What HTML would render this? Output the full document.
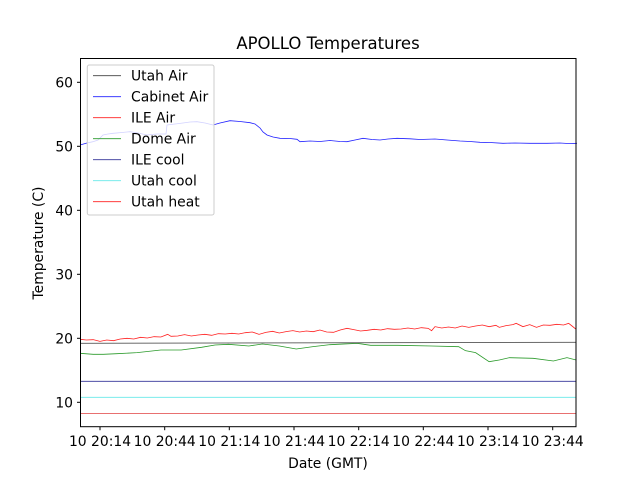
<!DOCTYPE html>
<html><head><meta charset="utf-8"><style>
body{margin:0;background:#fff;}
svg{display:block;font-family:"DejaVu Sans","Liberation Sans",sans-serif;}
</style></head><body>
<svg width="640" height="480" viewBox="0 0 640 480" xmlns="http://www.w3.org/2000/svg">
<rect width="640" height="480" fill="#fff"/>
<text x="328" y="49" font-size="16.5" text-anchor="middle">APOLLO Temperatures</text>
<line x1="80.5" y1="381.3" x2="576" y2="381.3" stroke="#333399" stroke-width="0.8"/>
<line x1="80.5" y1="397.3" x2="576" y2="397.3" stroke="#66e8e8" stroke-width="0.8"/>
<line x1="80.5" y1="413.5" x2="576" y2="413.5" stroke="#e04040" stroke-width="0.8"/>
<g transform="translate(59.36,320) scale(0.3384,0.3333)">
<polyline vector-effect="non-scaling-stroke" fill="none" stroke="#2a9a2a" stroke-width="0.8" points="61,100 100,103 130,103 170,101 230,98 300,90 360,90 420,82 460,75 500,73 560,78 600,72 650,78 700,87 750,80 800,74 880,70 920,76 1000,76 1100,78 1180,80 1200,92 1230,98 1270,125 1300,120 1330,113 1400,115 1460,123 1500,113 1527,120"/>
</g>
<line x1="80.5" y1="343.3" x2="576" y2="342.3" stroke="#555" stroke-width="0.8"/>
<g transform="translate(59.36,320) scale(0.3384,0.3333)">
<polyline vector-effect="non-scaling-stroke" fill="none" stroke="#ff2020" stroke-width="0.8" points="61,58 80,60 100,59 120,64 140,60 160,62 180,57 200,55 220,57 240,52 260,54 280,50 300,51 320,43 330,49 350,48 370,44 390,48 410,45 430,43 450,46 470,41 490,42 510,40 530,42 550,38 570,36 590,43 610,37 630,34 650,39 670,35 690,32 710,36 730,33 750,35 770,30 790,36 810,37 830,30 850,25 870,29 890,33 910,31 930,28 950,30 970,26 990,28 1010,27 1030,24 1050,27 1070,23 1090,25 1100,32 1110,20 1130,24 1150,21 1170,24 1190,18 1210,22 1230,18 1250,15 1270,20 1290,16 1300,22 1320,17 1340,14 1350,10 1370,20 1390,14 1410,22 1430,15 1450,16 1470,13 1490,15 1505,10 1515,18 1527,28"/>
</g>
<polyline fill="none" stroke="#2020ff" stroke-width="0.8" points="80,145 87,143 93,141.7 98,140 103,135 108,134 113,133.3 122,132.5 130,131.7 138,133 147,135 157,134 166,134 167,125 175,124 183,123 190,122 197,121.7 205,123 213,125 220,123 230,120.7 240,121.5 250,122.7 255,124 260,128 263,132 267,135 273,137 280,138.3 290,138.5 297,139.3 300,141.7 310,141 320,141.5 330,140.5 340,141.5 347,141.7 355,140 363,138.3 372,139.5 380,140 388,139 397,138.3 410,138.8 420,139.5 435,139 447,140 460,141 470,141.5 480,142.3 490,142.5 503,143.3 515,143 530,143.3 547,143.3 560,143 570,143.6 577,143.3"/>
<rect x="87.3" y="65" width="126.7" height="150" rx="2" fill="#fff" fill-opacity="0.8" stroke="#ccc" stroke-width="1"/>
<g font-size="13.9" stroke-width="0.8">
<line x1="93" y1="75.7" x2="121" y2="75.7" stroke="#404040"/><text x="131" y="80.5">Utah Air</text>
<line x1="93" y1="96.7" x2="121" y2="96.7" stroke="#2020ff"/><text x="131" y="101.5">Cabinet Air</text>
<line x1="93" y1="117.7" x2="121" y2="117.7" stroke="#ff2020"/><text x="131" y="122.5">ILE Air</text>
<line x1="93" y1="138.7" x2="121" y2="138.7" stroke="#2a9a2a"/><text x="131" y="143.5">Dome Air</text>
<line x1="93" y1="159.7" x2="121" y2="159.7" stroke="#333399"/><text x="131" y="164.5">ILE cool</text>
<line x1="93" y1="180.7" x2="121" y2="180.7" stroke="#66e8e8"/><text x="131" y="185.5">Utah cool</text>
<line x1="93" y1="201.7" x2="121" y2="201.7" stroke="#ff2020"/><text x="131" y="206.5">Utah heat</text>
</g>
<rect x="80.5" y="58.5" width="495.5" height="368.2" fill="none" stroke="#000" stroke-width="1"/>
<g stroke="#000" stroke-width="1">
<line x1="77" y1="82.3" x2="80.5" y2="82.3"/><line x1="77" y1="146.3" x2="80.5" y2="146.3"/><line x1="77" y1="210.3" x2="80.5" y2="210.3"/><line x1="77" y1="274.3" x2="80.5" y2="274.3"/><line x1="77" y1="338.3" x2="80.5" y2="338.3"/><line x1="77" y1="402.3" x2="80.5" y2="402.3"/>
<line x1="100" y1="426.7" x2="100" y2="430.2"/><line x1="164.7" y1="426.7" x2="164.7" y2="430.2"/><line x1="229.3" y1="426.7" x2="229.3" y2="430.2"/><line x1="294" y1="426.7" x2="294" y2="430.2"/><line x1="358.7" y1="426.7" x2="358.7" y2="430.2"/><line x1="423.3" y1="426.7" x2="423.3" y2="430.2"/><line x1="488" y1="426.7" x2="488" y2="430.2"/><line x1="552.7" y1="426.7" x2="552.7" y2="430.2"/>
</g>
<g font-size="13.9" text-anchor="end">
<text x="73" y="87.3">60</text><text x="73" y="151.3">50</text><text x="73" y="215.3">40</text><text x="73" y="279.3">30</text><text x="73" y="343.3">20</text><text x="73" y="407.3">10</text>
</g>
<g font-size="13.9" text-anchor="middle">
<text x="100" y="446">10 20:14</text><text x="164.7" y="446">10 20:44</text><text x="229.3" y="446">10 21:14</text><text x="294" y="446">10 21:44</text><text x="358.7" y="446">10 22:14</text><text x="423.3" y="446">10 22:44</text><text x="488" y="446">10 23:14</text><text x="552.7" y="446">10 23:44</text>
</g>
<text x="328" y="468" font-size="13.9" text-anchor="middle">Date (GMT)</text>
<text transform="translate(43,243) rotate(-90)" font-size="13.9" text-anchor="middle">Temperature (C)</text>
</svg>
</body></html>
